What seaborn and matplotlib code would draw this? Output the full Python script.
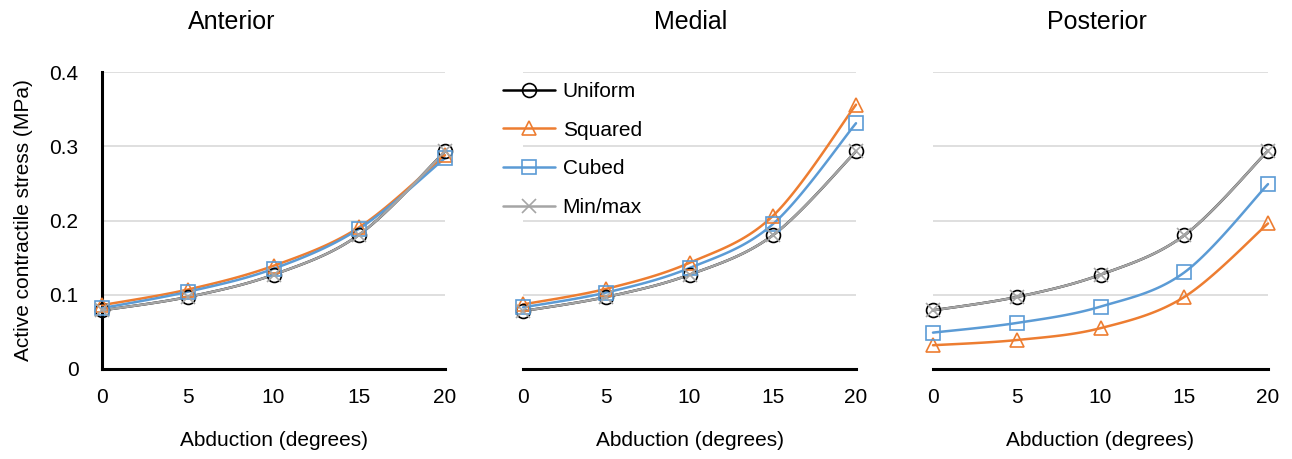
import numpy as np
import pandas as pd
import matplotlib
matplotlib.use("Agg")
import matplotlib.pyplot as plt
from matplotlib.lines import Line2D
import seaborn as sns

# ---- data ----
abduction = [0, 5, 10, 15, 20]
panels = ["Anterior", "Medial", "Posterior"]
series_names = ["Uniform", "Squared", "Cubed", "Min/max"]

anterior_uniform = [0.079, 0.097, 0.127, 0.181, 0.293]
anterior_squared = [0.086, 0.107, 0.139, 0.191, 0.288]
anterior_cubed = [0.082, 0.104, 0.135, 0.189, 0.284]
anterior_minmax = [0.079, 0.097, 0.127, 0.181, 0.293]

medial_uniform = [0.078, 0.097, 0.127, 0.180, 0.293]
medial_squared = [0.087, 0.108, 0.143, 0.206, 0.356]
medial_cubed = [0.083, 0.103, 0.136, 0.195, 0.331]
medial_minmax = [0.078, 0.097, 0.127, 0.180, 0.293]

posterior_uniform = [0.079, 0.097, 0.127, 0.180, 0.294]
posterior_squared = [0.032, 0.039, 0.055, 0.097, 0.196]
posterior_cubed = [0.049, 0.062, 0.084, 0.130, 0.249]
posterior_minmax = [0.079, 0.097, 0.127, 0.180, 0.294]

y_ticks = [0, 0.1, 0.2, 0.3, 0.4]
y_tick_labels = ["0", "0.1", "0.2", "0.3", "0.4"]
x_ticks = [0, 5, 10, 15, 20]
x_tick_labels = ["0", "5", "10", "15", "20"]

panel_data = {
    "Anterior": [anterior_uniform, anterior_squared, anterior_cubed, anterior_minmax],
    "Medial": [medial_uniform, medial_squared, medial_cubed, medial_minmax],
    "Posterior": [posterior_uniform, posterior_squared, posterior_cubed, posterior_minmax],
}

rows = []
for p in panels:
    for name, vals in zip(series_names, panel_data[p]):
        for x, v in zip(abduction, vals):
            rows.append({"panel": p, "series": name, "abduction": x, "stress": v})
df = pd.DataFrame(rows)

# ---- style ----
sns.set_theme(style="white")
plt.rcParams["font.family"] = ["Liberation Sans", "DejaVu Sans"]
for k in ["text.color", "axes.labelcolor", "xtick.color", "ytick.color"]:
    plt.rcParams[k] = "black"

colors = {"Uniform": "#000000", "Squared": "#ED7D31", "Cubed": "#5B9BD5", "Min/max": "#A5A5A5"}
markers = {"Uniform": "o", "Squared": "^", "Cubed": "s", "Min/max": "x"}
msizes = {"Uniform": 10, "Squared": 10, "Cubed": 9.5, "Min/max": 10}


def smooth(x, y, n=30):
    # Bezier smoothing through the points (like a spreadsheet's smoothed line)
    x = np.asarray(x, float)
    y = np.asarray(y, float)
    px = np.concatenate([[x[0]], x, [x[-1]]])
    py = np.concatenate([[y[0]], y, [y[-1]]])
    xs, ys = [], []
    for i in range(1, len(px) - 2):
        p0 = np.array([px[i - 1], py[i - 1]])
        p1 = np.array([px[i], py[i]])
        p2 = np.array([px[i + 1], py[i + 1]])
        p3 = np.array([px[i + 2], py[i + 2]])
        c1 = p1 + (p2 - p0) / 6.0
        c2 = p2 - (p3 - p1) / 6.0
        t = np.linspace(0, 1, n)[:, None]
        pts = ((1 - t) ** 3) * p1 + 3 * ((1 - t) ** 2) * t * c1 + 3 * (1 - t) * t ** 2 * c2 + t ** 3 * p2
        xs.extend(pts[:, 0])
        ys.extend(pts[:, 1])
    return np.array(xs), np.array(ys)


W, H = 1292, 459
fig = plt.figure(figsize=(W / 100, H / 100), dpi=100)

ax_px = {"Anterior": (102, 445), "Medial": (523, 856), "Posterior": (933, 1268)}
title_x = {"Anterior": 232, "Medial": 691, "Posterior": 1097}
top_px, bot_px = 72, 369

tick_fs = 15
axes = []
for p in panels:
    l, r = ax_px[p]
    ax = fig.add_axes([l / W, 1 - bot_px / H, (r - l) / W, (bot_px - top_px) / H])
    axes.append(ax)
    sub = df[df.panel == p]
    for name in series_names:
        s = sub[sub.series == name]
        sx, sy = smooth(s.abduction.values, s.stress.values)
        ax.plot(sx, sy, color=colors[name], lw=1.8, zorder=3, solid_capstyle="round", clip_on=False)
        ax.plot(s.abduction, s.stress, linestyle="none", marker=markers[name],
                markersize=msizes[name], markerfacecolor="none",
                markeredgecolor=colors[name], markeredgewidth=1.2, zorder=4, clip_on=False,
                label=name)
    ax.set_xlim(0, 20)
    ax.set_ylim(0, 0.4)
    ax.set_xticks(x_ticks)
    ax.set_xticklabels(x_tick_labels, fontsize=tick_fs)
    ax.set_yticks(y_ticks)
    ax.yaxis.grid(True, color="#D9D9D9", lw=1.2)
    ax.set_axisbelow(True)
    ax.tick_params(axis="x", length=0, pad=14)
    ax.tick_params(axis="y", length=0, pad=17)
    for sp in ["top", "right"]:
        ax.spines[sp].set_visible(False)
    ax.spines["bottom"].set_color("black")
    ax.spines["bottom"].set_linewidth(2.2)
    if p == "Anterior":
        ax.set_yticklabels(y_tick_labels, fontsize=tick_fs)
        ax.spines["left"].set_color("black")
        ax.spines["left"].set_linewidth(2.2)
        ax.set_ylabel("Active contractile stress (MPa)", fontsize=15, labelpad=12)
    else:
        ax.set_yticklabels([])
        ax.spines["left"].set_visible(False)
    ax.set_xlabel("Abduction (degrees)", fontsize=15, labelpad=17)
    fig.text(title_x[p] / W, 1 - 22 / H, p, ha="center", va="center", fontsize=18)

# legend in the medial panel
ax2 = axes[1]
handles = []
for name in series_names:
    handles.append(Line2D([], [], color=colors[name], lw=1.8, marker=markers[name],
                          markersize=msizes[name], markerfacecolor="none",
                          markeredgecolor=colors[name], markeredgewidth=1.2))
ax2.legend(handles, series_names, loc="upper left", bbox_to_anchor=((495 - 523) / (856 - 523), 0.995),
           frameon=False, fontsize=15, handlelength=2.5, labelspacing=0.95, handletextpad=0.35,
           borderaxespad=0)

fig.savefig("out.png", dpi=100)
